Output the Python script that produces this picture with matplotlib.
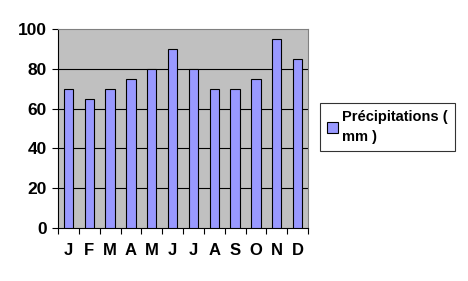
import matplotlib
matplotlib.use("Agg")
import matplotlib.pyplot as plt
import numpy as np

months = ["J", "F", "M", "A", "M", "J", "J", "A", "S", "O", "N", "D"]
precip = [70, 65, 70, 75, 80, 90, 80, 70, 70, 75, 95, 85]
series_label = "Précipitations (\nmm )"
yticks = [0, 20, 40, 60, 80, 100]

plt.rcParams["font.family"] = ["Liberation Sans", "DejaVu Sans"]
plt.rcParams["font.weight"] = "bold"

fig = plt.figure(figsize=(4.68, 2.81), dpi=100)
ax = fig.add_axes([58 / 468, 1 - 228 / 281, 250 / 468, 199 / 281])
ax.set_facecolor("#C0C0C0")

x = np.arange(len(months))
ax.bar(x, precip, width=0.45, color="#9999FF", edgecolor="black", linewidth=0.8,
       label=series_label, zorder=3)

ax.set_xlim(-0.5, len(months) - 0.5)
ax.set_ylim(0, 100)
ax.set_yticks(yticks)
ax.set_yticklabels([str(v) for v in yticks], fontsize=12.5, fontweight="bold")
for v in yticks[1:-1]:
    ax.axhline(v, color="black", linewidth=0.8, zorder=1)

ax.set_xticks(x)
ax.set_xticklabels(months, fontsize=12, fontweight="bold")
ax.tick_params(axis="x", length=0, pad=11)
ax.set_xticks(np.arange(-0.5, len(months)), minor=True)
ax.tick_params(axis="x", which="minor", length=4, width=0.8, direction="out")
ax.tick_params(axis="y", length=4, width=0.8, direction="out", pad=4)

for side in ("top", "right"):
    ax.spines[side].set_color("#808080")
for side in ("left", "bottom"):
    ax.spines[side].set_color("black")
    ax.spines[side].set_linewidth(0.8)

leg = fig.legend(loc="upper left", bbox_to_anchor=(320 / 468, 1 - 103 / 281),
                 fancybox=False, frameon=True, edgecolor="black",
                 prop={"size": 10.5, "weight": "bold"}, handlelength=0.7,
                 handleheight=0.7, handletextpad=0.3, borderpad=0.5,
                 borderaxespad=0)
leg.get_frame().set_linewidth(0.8)
for t in leg.get_texts():
    t.set_linespacing(1.5)

fig.savefig("out.png", dpi=100)
